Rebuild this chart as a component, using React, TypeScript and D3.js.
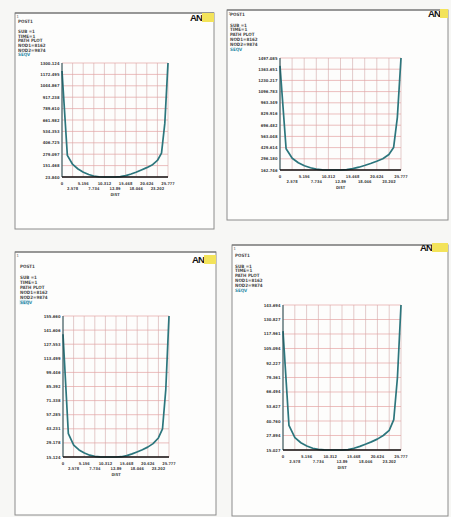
import * as d3 from 'd3';

// path distance ticks (same for all four plots)
const distTicks = [0, 2.578, 5.156, 7.734, 10.312, 12.89, 15.468, 18.046, 20.624, 23.202, 25.777];
const distLabels = ['0', '2.578', '5.156', '7.734', '10.312', '12.89', '15.468', '18.046', '20.624', '23.202', '25.777'];

// nodes along the path
const pathDist = [0, 1.3, 2.6, 3.9, 5.2, 6.5, 7.7, 9.0, 10.3, 11.6, 12.9, 14.2, 15.5, 16.8, 18.0, 19.3, 20.6, 21.9, 23.2, 24.2, 25.0, 25.777];

const seqv1 = [1210.8, 266.3, 164.2, 113.2, 77.4, 51.9, 35.3, 26.4, 23.84, 23.84, 23.84, 27.7, 39.2, 57.0, 77.4, 103.0, 128.5, 157.9, 208.9, 291.9, 623.7, 1300.124];
const seqv2 = [1403.7, 416.3, 302.9, 249.5, 213.5, 189.4, 173.4, 165.4, 162.746, 162.746, 162.746, 166.8, 178.8, 196.1, 216.1, 240.1, 266.8, 296.2, 346.9, 429.6, 789.9, 1497.085];
const seqv3 = [137.4, 38.31, 27.07, 22.15, 19.06, 16.95, 15.83, 15.26, 15.124, 15.124, 15.124, 15.4, 16.53, 18.22, 20.18, 22.43, 24.96, 28.47, 34.1, 43.23, 82.58, 155.66];
const seqv4 = [120.5, 36.9, 25.96, 21.46, 18.63, 16.57, 15.54, 15.16, 15.027, 15.027, 15.027, 15.41, 16.57, 18.24, 20.17, 22.23, 24.68, 27.89, 32.4, 42.05, 79.36, 143.694];

const yLabels1 = ['23.840', '151.468', '279.097', '406.725', '534.353', '661.982', '789.610', '917.238', '1044.867', '1172.495', '1300.124'];
const yLabels2 = ['162.746', '296.180', '429.614', '563.048', '696.482', '829.916', '963.349', '1096.783', '1230.217', '1363.651', '1497.085'];
const yLabels3 = ['15.124', '29.178', '43.231', '57.285', '71.338', '85.392', '99.446', '113.499', '127.553', '141.606', '155.660'];
const yLabels4 = ['15.027', '27.894', '40.760', '53.627', '66.494', '79.361', '92.227', '105.094', '117.961', '130.827', '143.694'];

const infoLines = ['SUB =1', 'TIME=1', 'PATH PLOT', 'NOD1=8162', 'NOD2=9874'];
const itemLabels = ['SEQV', 'SEQV', 'SEQV', 'SEQV'];

const seriesList = [seqv1, seqv2, seqv3, seqv4];
const yLabelList = [yLabels1, yLabels2, yLabels3, yLabels4];

// frame / plot rectangles: [x0, y0, x1, y1]
const layouts = [
  { frame: [15, 13, 214, 229], plot: [62, 63, 168, 177], tx: 18, ty: 22.5, gap: 4.7, logo: [190, 13] },
  { frame: [227, 10, 448, 220], plot: [280, 58, 401, 170], tx: 230, ty: 16, gap: 4.8, logo: [428, 9] },
  { frame: [15, 252, 216, 515], plot: [63, 316, 169, 457], tx: 20, ty: 267.5, gap: 5, logo: [192, 255] },
  { frame: [232, 245, 448, 516], plot: [283, 305, 401, 450], tx: 235, ty: 257, gap: 4.8, logo: [420, 243] },
];

const FONT = '"DejaVu Sans Condensed", "DejaVu Sans", sans-serif';

function Panel({ idx }: { idx: number }) {
  const lay = layouts[idx];
  const values = seriesList[idx];
  const yLabels = yLabelList[idx];
  const [fx0, fy0, fx1, fy1] = lay.frame;
  const [px0, py0, px1, py1] = lay.plot;
  const yv = yLabels.map(Number);

  const x = d3.scaleLinear().domain([0, 25.777]).range([px0, px1]);
  const y = d3.scaleLinear().domain([yv[0], yv[yv.length - 1]]).range([py1, py0]);
  const line = d3
    .line<number>()
    .x((_, i) => x(pathDist[i]))
    .y((d) => y(d));

  const itemY = lay.ty + lay.gap * 7.2;

  return (
    <g>
      <rect x={fx0} y={fy0} width={fx1 - fx0} height={fy1 - fy0} fill="#fdfdfc" stroke="#8c8c8c" strokeWidth={1} />
      <line x1={fx0} x2={fx1} y1={fy0} y2={fy0} stroke="#6a6a6a" strokeWidth={1} />
      <text x={fx0 + 1.5} y={fy0 + 4.5} fontSize={4} fontFamily={FONT} fill="#555">1</text>

      {/* header text */}
      <g fontFamily={FONT} fontSize={4.5} fontWeight="bold" fill="#4a4a4a">
        <text x={lay.tx} y={lay.ty}>POST1</text>
        {infoLines.map((t, i) => (
          <text key={t} x={lay.tx} y={lay.ty + lay.gap * (2.2 + i)}>{t}</text>
        ))}
        {idx === 2 && <rect x={lay.tx - 0.5} y={itemY - 3.8} width={10} height={4.8} fill="#d5e8ef" />}
        <text x={lay.tx} y={itemY} fill="#2d8aa6">{itemLabels[idx]}</text>
      </g>

      {/* logo */}
      <text x={lay.logo[0]} y={lay.logo[1] + 7.5} fontSize={9.5} fontWeight="bold" fontFamily="Liberation Sans, sans-serif" fill="#111" letterSpacing={-0.8}>AN</text>
      <rect x={lay.logo[0] + 12} y={lay.logo[1]} width={fx1 - lay.logo[0] - 12} height={9} fill="#f3e35a" />

      {/* grid */}
      {distTicks.map((d) => (
        <line key={'v' + d} x1={x(d)} x2={x(d)} y1={py0} y2={py1} stroke="#d9b4b4" strokeWidth={0.7} />
      ))}
      {yv.map((v) => (
        <line key={'h' + v} x1={px0} x2={px1} y1={y(v)} y2={y(v)} stroke="#e4a4a4" strokeWidth={0.7} />
      ))}

      {/* curve */}
      <path d={line(values) || ''} fill="none" stroke="#2c767d" strokeWidth={1.7} strokeLinejoin="round" />

      {/* axes */}
      <line x1={px0} x2={px0} y1={py0} y2={py1} stroke="#1e4d52" strokeWidth={1} />
      <line x1={px0} x2={px1} y1={py1} y2={py1} stroke="#111" strokeWidth={1.3} />

      {/* y labels */}
      <g fontFamily={FONT} fontSize={4.1} fontWeight="bold" fill="#444" textAnchor="end">
        {yLabels.map((t, i) => (
          <text key={t} x={px0 - 2.5} y={y(yv[i]) + 1.5}>{t}</text>
        ))}
      </g>

      {/* x labels, staggered in two rows */}
      <g fontFamily={FONT} fontSize={3.9} fontWeight="bold" fill="#444" textAnchor="middle">
        {distLabels.map((t, i) => (
          <text key={t} x={x(distTicks[i])} y={py1 + (i % 2 === 0 ? 7.5 : 13)}>{t}</text>
        ))}
        <text x={(px0 + px1) / 2} y={py1 + 18.5}>DIST</text>
      </g>
    </g>
  );
}

export default function App() {
  return (
    <svg width={451} height={517} style={{ position: 'fixed', left: 0, top: 0, background: '#f7f7f5' }}>
      <rect x={0} y={0} width={451} height={517} fill="#f7f7f5" />
      {[0, 1, 2, 3].map((i) => (
        <Panel key={i} idx={i} />
      ))}
    </svg>
  );
}
